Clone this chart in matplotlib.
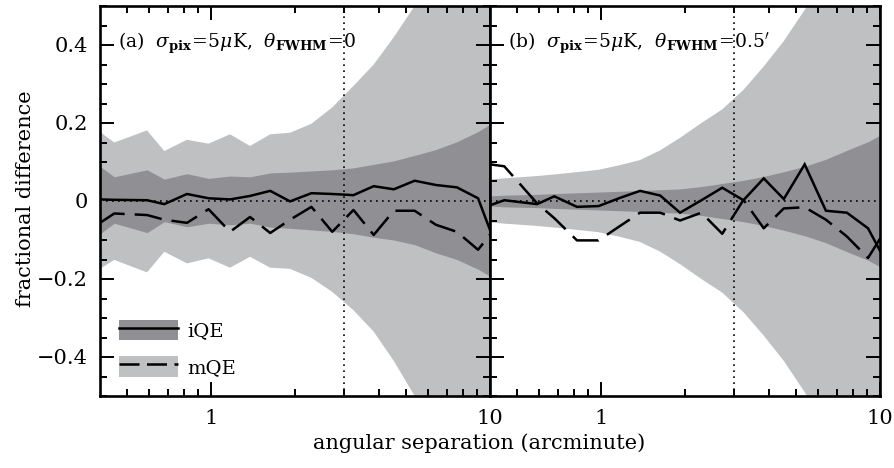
import numpy as np
import matplotlib
matplotlib.use("Agg")
import matplotlib.pyplot as plt
from matplotlib.patches import Patch
from matplotlib.lines import Line2D
from matplotlib.legend_handler import HandlerTuple
from matplotlib.ticker import MultipleLocator, FixedLocator, FuncFormatter, NullFormatter

plt.rcParams["font.family"] = ["DejaVu Serif"]
plt.rcParams["mathtext.fontset"] = "dejavuserif"

# angular separation bins (arcminute)
sep = [0.40, 0.45, 0.59, 0.68, 0.82, 0.98, 1.17, 1.38, 1.63, 1.92,
       2.29, 2.72, 3.24, 3.83, 4.52, 5.37, 6.40, 7.61, 9.06, 10.7]

# ---- panel (a): sigma_pix = 5 uK, theta_FWHM = 0
a_iqe = [0.004, 0.003, 0.002, -0.008, 0.018, 0.007, 0.004, 0.013, 0.026, -0.001,
         0.020, 0.018, 0.015, 0.038, 0.030, 0.052, 0.041, 0.035, 0.007, -0.130]
a_mqe = [-0.056, -0.032, -0.036, -0.048, -0.056, -0.021, -0.079, -0.041, -0.082, -0.048,
         -0.015, -0.079, -0.023, -0.087, -0.025, -0.025, -0.061, -0.079, -0.125, -0.060]
a_iqe_hi = [0.089, 0.062, 0.080, 0.056, 0.070, 0.058, 0.064, 0.062, 0.072, 0.074,
            0.077, 0.080, 0.085, 0.094, 0.103, 0.117, 0.132, 0.152, 0.178, 0.210]
a_iqe_lo = [-0.084, -0.057, -0.081, -0.053, -0.066, -0.057, -0.061, -0.057, -0.067, -0.070,
            -0.074, -0.078, -0.084, -0.093, -0.100, -0.112, -0.133, -0.150, -0.175, -0.205]
a_mqe_hi = [0.177, 0.150, 0.181, 0.128, 0.157, 0.147, 0.171, 0.141, 0.171, 0.175,
            0.198, 0.240, 0.295, 0.350, 0.420, 0.500, 0.600, 0.720, 0.850, 1.000]
a_mqe_lo = [-0.174, -0.151, -0.183, -0.130, -0.160, -0.147, -0.171, -0.143, -0.171, -0.174,
            -0.197, -0.233, -0.280, -0.335, -0.410, -0.500, -0.600, -0.720, -0.850, -1.000]

# ---- panel (b): sigma_pix = 5 uK, theta_FWHM = 0.5'
b_iqe = [-0.011, 0.002, -0.008, 0.012, -0.015, -0.013, 0.008, 0.026, 0.014, -0.030,
         0.002, 0.034, 0.002, 0.058, 0.005, 0.094, -0.025, -0.030, -0.070, -0.167]
b_mqe = [0.094, 0.089, -0.006, -0.044, -0.101, -0.101, -0.064, -0.030, -0.030, -0.050,
         -0.030, -0.084, 0.003, -0.070, -0.019, -0.016, -0.048, -0.091, -0.146, -0.063]
b_iqe_sig = [0.013, 0.015, 0.017, 0.019, 0.021, 0.023, 0.025, 0.027, 0.029, 0.031,
             0.037, 0.045, 0.053, 0.063, 0.075, 0.089, 0.107, 0.130, 0.152, 0.180]
b_mqe_sig = [0.055, 0.058, 0.064, 0.068, 0.074, 0.080, 0.092, 0.105, 0.130, 0.162,
             0.200, 0.235, 0.285, 0.345, 0.410, 0.490, 0.580, 0.680, 0.800, 0.930]

labels = [r"(a)  $\sigma_{\mathbf{pix}}\!=\!5\mu$K,  $\theta_{\mathbf{FWHM}}\!=\!0$",
          r"(b)  $\sigma_{\mathbf{pix}}\!=\!5\mu$K,  $\theta_{\mathbf{FWHM}}\!=\!0.5'$"]

DARK = "#909094"
LIGHT = "#bfc0c2"
LW = 1.8
DASH = (11, 4)

fig = plt.figure(figsize=(8.94, 4.68), dpi=100)
L, B, W, H = 100 / 894, 72 / 468, 390 / 894, 390 / 468
ax1 = fig.add_axes([L, B, W, H])
ax2 = fig.add_axes([L + W, B, W, H])

x = np.array(sep)
panels = [
    (ax1, a_iqe, a_mqe, a_iqe_lo, a_iqe_hi, a_mqe_lo, a_mqe_hi, labels[0]),
    (ax2, b_iqe, b_mqe, -np.array(b_iqe_sig), b_iqe_sig, -np.array(b_mqe_sig), b_mqe_sig, labels[1]),
]

def yfmt(v, p):
    if abs(v) < 1e-9:
        return "0"
    return f"{v:.1f}".replace("-", "\u2212")

for i, (ax, iqe, mqe, ilo, ihi, mlo, mhi, lab) in enumerate(panels):
    ax.fill_between(x, mlo, mhi, color=LIGHT, lw=0, zorder=1)
    ax.fill_between(x, ilo, ihi, color=DARK, lw=0, zorder=2)
    ax.axhline(0, color="k", lw=1.2, ls=(0, (1, 2.6)), zorder=3)
    ax.axvline(3, color="k", lw=1.2, ls=(0, (1, 2.6)), zorder=3)
    ax.plot(x, iqe, color="k", lw=LW, zorder=4, solid_joinstyle="miter")
    l, = ax.plot(x, mqe, color="k", lw=LW, zorder=4)
    l.set_dashes(DASH)
    ax.set_xscale("log")
    ax.set_xlim(0.4, 10)
    ax.set_ylim(-0.5, 0.5)
    ax.xaxis.set_major_locator(FixedLocator([1, 10]))
    ax.xaxis.set_major_formatter(FuncFormatter(lambda v, p: f"{v:g}"))
    ax.xaxis.set_minor_locator(FixedLocator([0.5, 0.6, 0.7, 0.8, 0.9, 2, 3, 4, 5, 6, 7, 8, 9]))
    ax.xaxis.set_minor_formatter(NullFormatter())
    ax.yaxis.set_major_locator(MultipleLocator(0.2))
    ax.yaxis.set_minor_locator(MultipleLocator(0.05))
    ax.yaxis.set_major_formatter(FuncFormatter(yfmt))
    ax.tick_params(which="both", direction="in", top=True, right=True, width=1.4,
                   labelsize=15, pad=9)
    ax.tick_params(which="major", length=10)
    ax.tick_params(which="minor", length=5)
    for s in ax.spines.values():
        s.set_linewidth(1.9)
        s.set_zorder(5)
    ax.text(0.045, 0.905, lab, transform=ax.transAxes, fontsize=13.5,
            ha="left", va="center", zorder=6)
    if i == 1:
        ax.tick_params(labelleft=False)

h1 = (Patch(facecolor=DARK, edgecolor="none"), Line2D([], [], color="k", lw=LW))
ld = Line2D([], [], color="k", lw=LW)
ld.set_dashes((8, 3))
h2 = (Patch(facecolor=LIGHT, edgecolor="none"), ld)
leg = ax1.legend([h1, h2], ["iQE", "mQE"], handler_map={tuple: HandlerTuple(ndivide=1, pad=0)},
                 loc="lower left", bbox_to_anchor=(0.049, 0.049), borderaxespad=0, borderpad=0,
                 frameon=False, fontsize=14, handlelength=3.05, handleheight=1.25,
                 labelspacing=0.8, handletextpad=0.45)

fig.text(0.536, 0.052, "angular separation (arcminute)", ha="center", va="center", fontsize=15)
fig.text(0.028, 0.575, "fractional difference", ha="center", va="center", rotation=90, fontsize=15)

fig.savefig("out.png", dpi=100)
